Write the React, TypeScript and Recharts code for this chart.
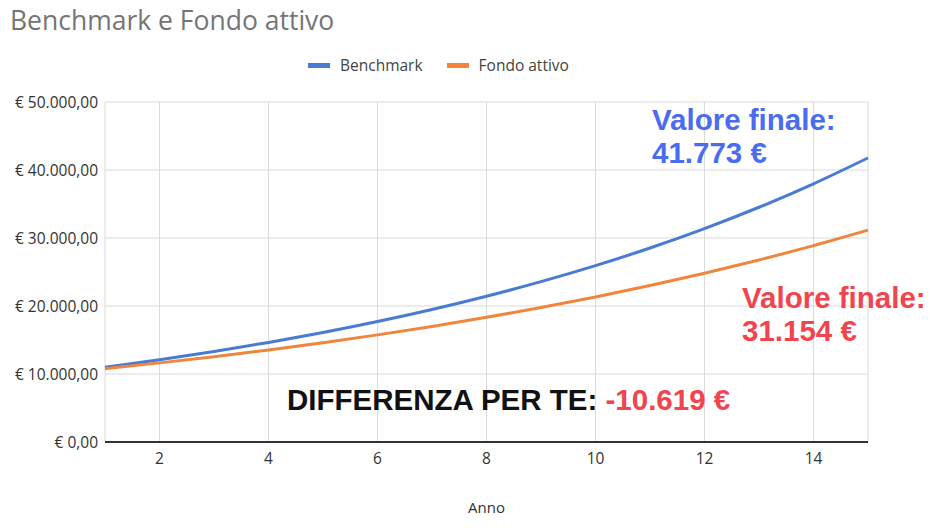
import React from "react";
import { LineChart, Line, XAxis, YAxis, CartesianGrid } from "recharts";

const years = [1, 2, 3, 4, 5, 6, 7, 8, 9, 10, 11, 12, 13, 14, 15];
const benchmark = [11000, 12100, 13310, 14641, 16105, 17716, 19487, 21436, 23579, 25937, 28531, 31384, 34523, 37975, 41773];
const fondoAttivo = [10787, 11636, 12552, 13540, 14605, 15754, 16994, 18331, 19774, 21330, 23008, 24819, 26772, 28879, 31154];
const xTicks = [2, 4, 6, 8, 10, 12, 14];
const yTicks = [0, 10000, 20000, 30000, 40000, 50000];

const data = years.map((anno, i) => ({ anno, benchmark: benchmark[i], fondo: fondoAttivo[i] }));

const BLUE = "#4a7bd2";
const ORANGE = "#f0853e";
const font = "'Open Sans', 'Noto Sans', sans-serif";

function euro(v: number) {
  const s = Math.round(v).toString().replace(/\B(?=(\d{3})+(?!\d))/g, ".");
  return "€ " + s + ",00";
}

export default function App() {
  const annot: React.CSSProperties = {
    position: "absolute",
    fontFamily: "'Liberation Sans', Arial, sans-serif",
    fontWeight: "bold",
    fontSize: 29.5,
    lineHeight: "33px",
    whiteSpace: "nowrap",
  };
  return (
    <div style={{ position: "absolute", left: 0, top: 0, width: 940, height: 528, background: "#fff", fontFamily: font }}>
      <div style={{ position: "absolute", left: 10, top: 2, fontSize: 26.5, color: "#757575" }}>Benchmark e Fondo attivo</div>
      <div style={{ position: "absolute", left: 308, top: 54, display: "flex", fontSize: 15.5, color: "#444" }}>
        <span style={{ display: "flex", alignItems: "center", marginRight: 24 }}>
          <span style={{ width: 22, height: 5, background: BLUE, marginRight: 10, display: "inline-block" }} />Benchmark
        </span>
        <span style={{ display: "flex", alignItems: "center" }}>
          <span style={{ width: 22, height: 5, background: ORANGE, marginRight: 10, display: "inline-block" }} />Fondo attivo
        </span>
      </div>
      <LineChart width={940} height={528} data={data} margin={{ top: 102, right: 72, left: 0, bottom: 0 }}>
        <CartesianGrid stroke="#dadada" />
        <XAxis
          dataKey="anno"
          type="number"
          domain={[1, 15]}
          ticks={xTicks}
          tickLine={false}
          tickSize={0}
          axisLine={{ stroke: "#333", strokeWidth: 2 }}
          tick={{ fill: "#333", fontSize: 15.5, fontFamily: font }}
          tickMargin={11}
          height={86}
          label={{ value: "Anno", position: "insideBottom", offset: 15, fill: "#333", fontSize: 15, fontFamily: font }}
        />
        <YAxis
          type="number"
          domain={[0, 50000]}
          ticks={yTicks}
          width={105}
          tickLine={false}
          tickSize={0}
          axisLine={false}
          tickFormatter={euro}
          tick={{ fill: "#333", fontSize: 15.5, fontFamily: font }}
          tickMargin={7}
        />
        <Line type="monotone" dataKey="benchmark" stroke={BLUE} strokeWidth={3} dot={false} isAnimationActive={false} />
        <Line type="monotone" dataKey="fondo" stroke={ORANGE} strokeWidth={3} dot={false} isAnimationActive={false} />
      </LineChart>
      <div style={{ ...annot, left: 652, top: 103, color: "#4a6cf0" }}>
        Valore finale:<br />41.773 €
      </div>
      <div style={{ ...annot, left: 742, top: 281, color: "#f2444e" }}>
        Valore finale:<br />31.154 €
      </div>
      <div style={{ ...annot, left: 287, top: 383, color: "#111" }}>
        DIFFERENZA PER TE: <span style={{ color: "#f2444e" }}>-10.619 €</span>
      </div>
    </div>
  );
}
